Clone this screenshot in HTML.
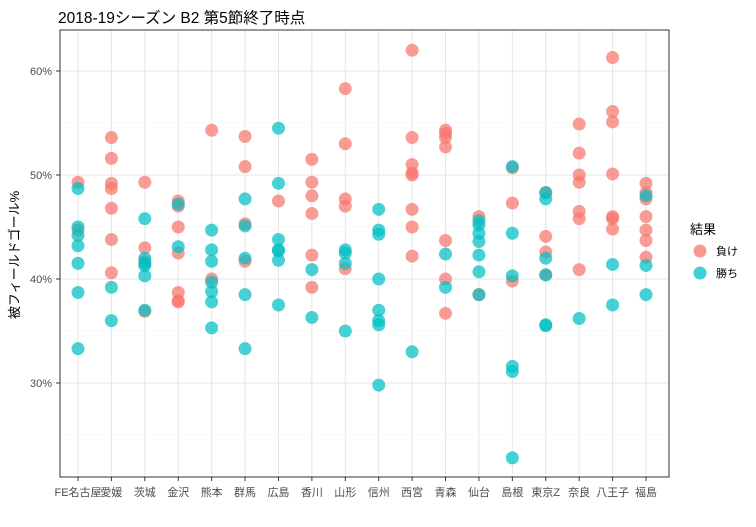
<!DOCTYPE html>
<html><head><meta charset="utf-8"><style>
body{margin:0;background:#fff;font-family:"Liberation Sans","Noto Sans CJK JP",sans-serif}
svg text{font-family:"Liberation Sans","Noto Sans CJK JP",sans-serif}
</style></head><body>
<svg id="chart" width="756" height="522" viewBox="0 0 756 522">
<text x="58" y="23" font-size="15.5" fill="#000">2018-19シーズン B2 第5節終了時点</text>
<g id="grid"></g>
<g id="pts"></g>
<rect x="60" y="30" width="609" height="447" fill="none" stroke="#333" stroke-width="1"/>
<g id="axes"></g>
<text transform="translate(19,255) rotate(-90)" text-anchor="middle" font-size="13" fill="#000">被フィールドゴール%</text>
<g>
<text x="690" y="234" font-size="13" fill="#000">結果</text>
<g><circle cx="700" cy="251" r="6.5" fill="#F8766D" fill-opacity="0.75"/><text x="716" y="255" font-size="11" fill="#000">負け</text></g>
<g><circle cx="700" cy="273" r="6.5" fill="#00BFC4" fill-opacity="0.75"/><text x="716" y="277" font-size="11" fill="#000">勝ち</text></g>
</g>
</svg>
<script>
const categories=["FE名古屋","愛媛","茨城","金沢","熊本","群馬","広島","香川","山形","信州","西宮","青森","仙台","島根","東京Z","奈良","八王子","福島"];
const loseValues=[[49.3,44.7],[53.6,51.6,49.2,48.7,46.8,43.8,40.6],[49.3,43.0,41.7,36.9],[47.5,47.0,45.0,42.5,38.7,37.9,37.8],[54.3,40.0],[53.7,50.8,45.3,41.7],[47.5],[51.5,49.3,48.0,46.3,42.3,39.2],[58.3,53.0,47.7,47.0,41.0],[],[62.0,53.6,51.0,50.2,50.0,46.7,45.0,42.2],[54.3,54.0,53.6,52.7,43.7,40.0,36.7],[46.0,38.5],[50.7,47.3,39.8],[48.3,44.1,42.6,40.4],[54.9,52.1,50.0,49.3,46.5,45.8,40.9],[61.3,56.1,55.1,50.1,46.0,45.8,44.8],[49.2,48.3,47.7,46.0,44.7,43.7,42.1]];
const winValues=[[48.7,45.0,44.2,43.2,41.5,38.7,33.3],[39.2,36.0],[45.8,42.0,41.5,41.3,40.3,37.0],[47.2,43.1],[44.7,42.8,41.7,39.7,38.8,37.8,35.3],[47.7,45.1,42.0,38.5,33.3],[54.5,49.2,43.8,42.8,42.7,41.8,37.5],[40.9,36.3],[42.8,42.5,41.5,35.0],[46.7,44.7,44.3,40.0,37.0,36.0,35.6,29.8],[33.0],[42.4,39.2],[45.6,45.2,44.4,43.6,42.3,40.7,38.5],[50.8,44.4,40.3,31.6,31.1,22.8],[48.3,47.7,42.0,40.4,35.6,35.5],[36.2],[41.4,37.5],[48.0,41.3,38.5]];
const yTicks=[30,40,50,60];
const yMinor=[25,35,45,55];
const NS="http://www.w3.org/2000/svg";
function xs(i){return 78+i*(646-78)/(categories.length-1);}
function ys(v){return 279-(v-40)*10.4;}
function mk(t,a,p){const e=document.createElementNS(NS,t);for(const k in a)e.setAttribute(k,a[k]);p.appendChild(e);return e;}
const grid=document.getElementById('grid'),pts=document.getElementById('pts'),axes=document.getElementById('axes');
yMinor.forEach(v=>{const l=mk('line',{x1:60,x2:669,y1:ys(v),y2:ys(v),stroke:'#f0f0f0','stroke-width':0.6},grid);

});
yTicks.forEach(v=>{const l=mk('line',{x1:60,x2:669,y1:ys(v),y2:ys(v),stroke:'#e5e5e5','stroke-width':1},grid);


const t=mk('text',{x:52,y:ys(v)+4,'text-anchor':'end','font-size':11,fill:'#4d4d4d'},axes);t.textContent=v+'%';


const k=mk('line',{x1:56,x2:60,y1:ys(v),y2:ys(v),stroke:'#333'},axes);

});
categories.forEach((c,i)=>{const x=xs(i);
const l=mk('line',{x1:x,x2:x,y1:30,y2:477,stroke:'#e5e5e5','stroke-width':1},grid);


const k=mk('line',{x1:x,x2:x,y1:477,y2:481,stroke:'#333'},axes);


const t=mk('text',{x:x,y:496,'text-anchor':'middle','font-size':11,fill:'#4d4d4d'},axes);t.textContent=c;

});
function draw(arr,col,name){arr.forEach((vals,i)=>vals.forEach(v=>{const p=mk('circle',{cx:xs(i),cy:ys(v),r:6.5,fill:col,'fill-opacity':0.72},pts);

}));}
draw(loseValues,'#F8766D','point-lose');
draw(winValues,'#00BFC4','point-win');
</script>
</body></html>
